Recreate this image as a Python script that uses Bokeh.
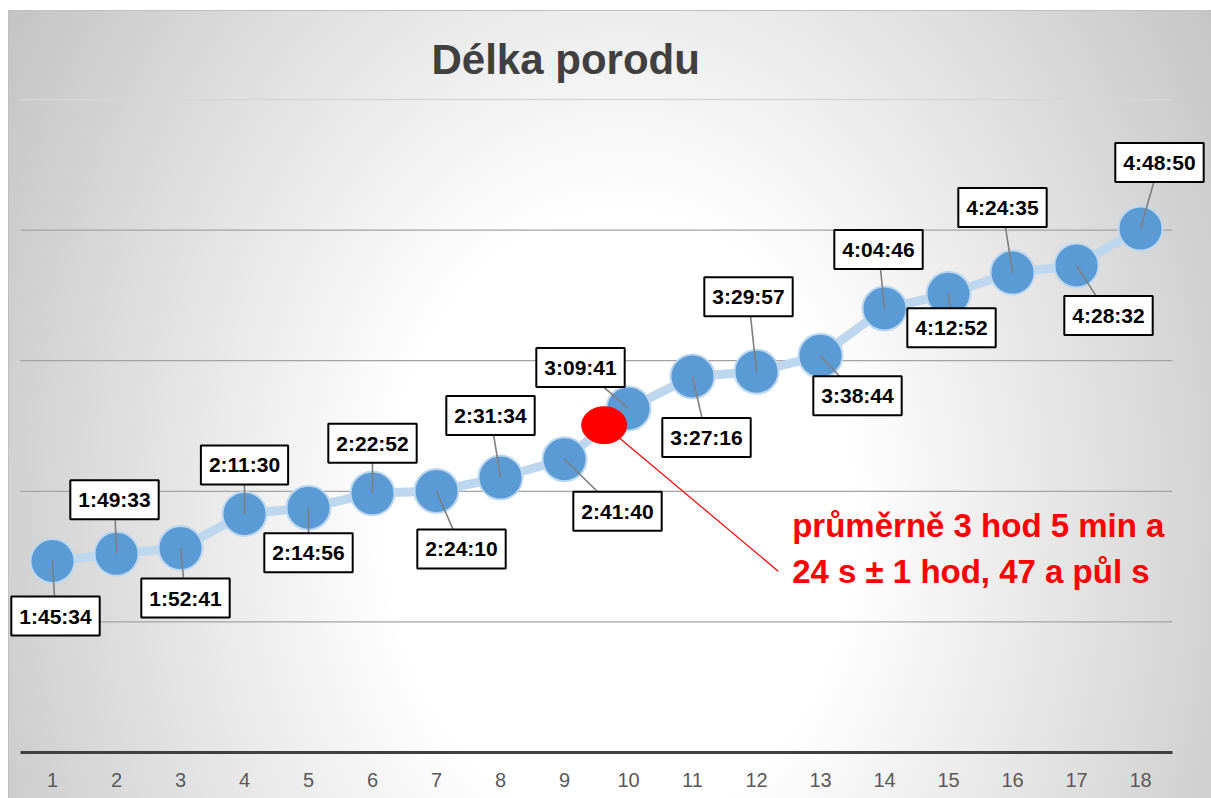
from bokeh.plotting import figure
from bokeh.models import Range1d, FixedTicker, Label
from bokeh.embed import file_html
from bokeh.resources import INLINE
from bokeh.core.properties import value

# ---------------- data ----------------
title_text = "Délka porodu"
births = list(range(1, 19))
durations = ["1:45:34", "1:49:33", "1:52:41", "2:11:30", "2:14:56", "2:22:52",
             "2:24:10", "2:31:34", "2:41:40", "3:09:41", "3:27:16", "3:29:57",
             "3:38:44", "4:04:46", "4:12:52", "4:24:35", "4:28:32", "4:48:50"]
mean_duration = "3:05:24"
callout_lines = ["průměrně 3 hod 5 min a", "24 s ± 1 hod, 47 a půl s"]
grid_days = [0.05, 0.10, 0.15, 0.20]
top_day = 0.25

# ---------------- layout settings ----------------
W, H = 1211, 798
PLOT_LEFT, PLOT_RIGHT = 20, 39          # px from figure edge to category 0.5 / 18.5
B_TOP, B_BOTTOM = 95, 46
FRAME_H = H - B_TOP - B_BOTTOM
PX_X = (W - PLOT_LEFT - PLOT_RIGHT) / len(births)   # pixels per category
SEC_PX = top_day * 86400 / 653.0                     # seconds per pixel
X0 = 0.5 - PLOT_LEFT / PX_X
X1 = len(births) + 0.5 + PLOT_RIGHT / PX_X
Y0 = 0.0
Y1 = Y0 + FRAME_H * SEC_PX

# label box centre offsets from each point (pixels, +dy = down)
label_offsets = [(3, 55), (-2, -54), (5, 50), (0, -49), (0, 45), (0, -50),
                 (25, 58), (-10, -62), (53, 52), (-48, -41), (14, 61), (-8, -75),
                 (37, 40), (-6, -59), (3, 34), (-10, -65), (32, 50), (19, -66)]
mean_marker_x = 9.62
mean_marker_dy = 9                    # px shift of the red marker below the mean
callout_text_off = (188, 100, 146)    # dx, line1 dy, line2 dy
callout_line_end = (174, 146)

FONT = "Liberation Sans"


def to_sec(s):
    h, m, sec = (int(v) for v in s.split(":"))
    return h * 3600 + m * 60 + sec


secs = [to_sec(d) for d in durations]
mean_sec = to_sec(mean_duration)

bg = ("linear-gradient(#c0c0c0, #c0c0c0) 8px 10px / 1203px 1px no-repeat, "
      "linear-gradient(#c0c0c0, #c0c0c0) 8px 10px / 1px 788px no-repeat, "
      "radial-gradient(ellipse 680px 900px at 612px 510px, "
      "#ffffff 0%, #ffffff 34%, #c4c4c4 106%) 8px 10px / 1203px 788px no-repeat, "
      "#ffffff")

p = figure(width=W, height=H, output_backend="svg", toolbar_location=None,
           x_range=Range1d(X0, X1), y_range=Range1d(Y0, Y1),
           y_axis_location=None,
           min_border_left=0, min_border_right=0,
           min_border_top=B_TOP, min_border_bottom=B_BOTTOM,
           title=title_text,
           styles={"background": bg})
p.background_fill_alpha = 0
p.border_fill_alpha = 0
p.outline_line_color = None

p.title.align = "left"
p.title.offset = 431
p.title.standoff = 26
p.title.text_font = FONT
p.title.text_font_size = "42px"
p.title.text_font_style = "bold"
p.title.text_color = "#404040"

p.xgrid.visible = False
p.ygrid.visible = False

# horizontal gridlines across the category span
g_lo, g_hi = births[0] - 0.5, births[-1] + 0.5
grid_secs = [d * 86400 for d in grid_days]
p.segment(x0=[g_lo] * len(grid_secs), x1=[g_hi] * len(grid_secs),
          y0=grid_secs, y1=grid_secs, line_color="#a3a3a3", line_width=1.2)
p.segment(x0=[g_lo], x1=[g_hi], y0=[top_day * 86400], y1=[top_day * 86400],
          line_color="#d6d6d6", line_width=1.5)

ax = p.xaxis[0]
ax.ticker = FixedTicker(ticks=births)
ax.bounds = (g_lo, g_hi)
ax.axis_line_color = "#404040"
ax.axis_line_width = 3
ax.major_tick_line_color = None
ax.minor_tick_line_color = None
ax.major_tick_out = 0
ax.major_tick_in = 0
ax.major_label_standoff = 20
ax.major_label_text_font = FONT
ax.major_label_text_font_size = "20px"
ax.major_label_text_color = "#595959"

# series
p.line(births, secs, line_color="#bdd7ee", line_width=9)
p.scatter(births, secs, size=44, fill_color="#5b9bd5", line_color="#bdd7ee", line_width=2)

# leader lines + labels
lx = [x + dx / PX_X for x, (dx, dy) in zip(births, label_offsets)]
ly = [y - dy * SEC_PX for y, (dx, dy) in zip(secs, label_offsets)]
p.segment(x0=births, y0=secs, x1=lx, y1=ly, line_color="#7f7f7f", line_width=1.6)

for x, y, t in zip(lx, ly, durations):
    p.add_layout(Label(x=x, y=y, text=t, text_align="center", text_baseline="middle",
                       text_font=FONT, text_font_size="21px", text_font_style="bold",
                       text_color="black", background_fill_color="white",
                       border_line_color="black", border_line_width=2, padding=8))

# mean callout
my = mean_sec - mean_marker_dy * SEC_PX
ex, ey = callout_line_end
p.segment(x0=[mean_marker_x], y0=[my],
          x1=[mean_marker_x + ex / PX_X], y1=[my - ey * SEC_PX],
          line_color="#ff0000", line_width=1.2)
p.ellipse(x=[mean_marker_x], y=[my], width=45, height=37,
          width_units="screen", height_units="screen",
          fill_color="#ff0000", line_color="#ff0000")
tdx, tdy1, tdy2 = callout_text_off
p.text(x=[mean_marker_x + tdx / PX_X] * 2,
       y=[my - tdy1 * SEC_PX, my - tdy2 * SEC_PX],
       text=callout_lines, text_font=value(FONT), text_font_size="33px",
       text_font_style="bold", text_color="#ff0000",
       text_align="left", text_baseline="alphabetic")

open("out.html", "w").write(file_html(p, INLINE))
